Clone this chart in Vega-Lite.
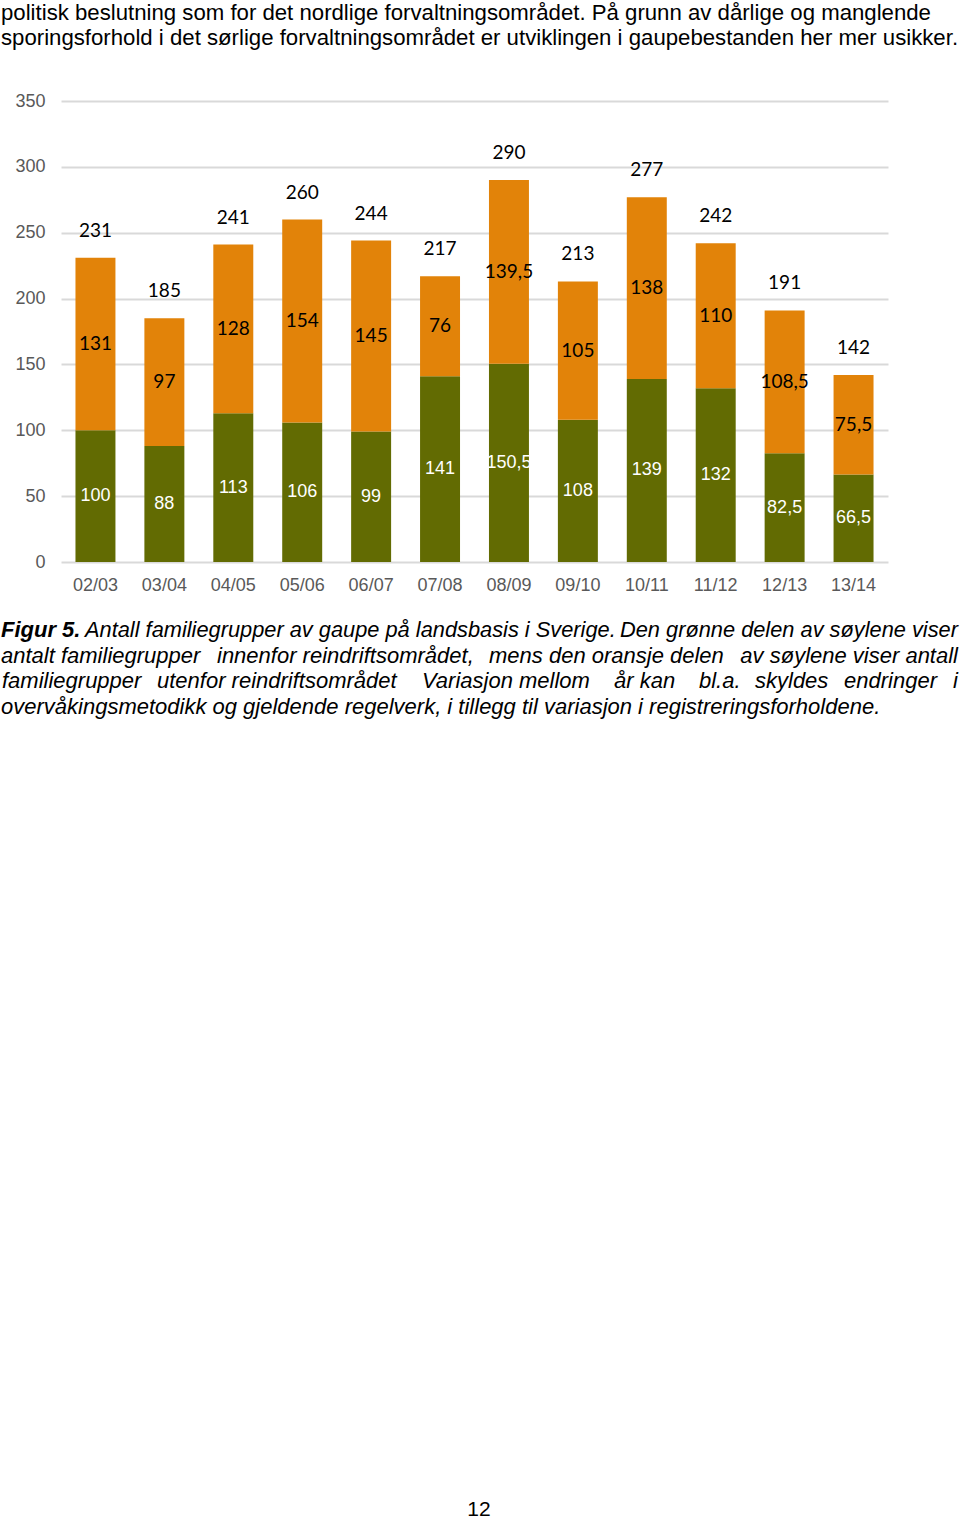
{
  "$schema": "https://vega.github.io/schema/vega-lite/v6.json",
  "autosize": {"type": "none"},
  "width": 827,
  "height": 461,
  "padding": {"left": 61, "top": 101, "right": 72, "bottom": 957},
  "background": "white",
  "config": {
    "view": {"stroke": null},
    "locale": {"number": {"decimal": ",", "thousands": " ", "grouping": [3], "currency": ["", " kr"]}}
  },
  "title": {
    "text": ["politisk beslutning som for det nordlige forvaltningsområdet. På grunn av dårlige og manglende", "sporingsforhold i det sørlige forvaltningsområdet er utviklingen i gaupebestanden her mer usikker."],
    "anchor": "start",
    "frame": "group",
    "dx": -60,
    "offset": 43,
    "font": "Liberation Sans",
    "fontSize": 22.2,
    "fontWeight": "normal",
    "color": "black",
    "lineHeight": 25
  },
  "data": {
    "values": [
      {"season": "02/03", "group": "innenfor", "ord": 1, "value": 100},
      {"season": "02/03", "group": "utenfor", "ord": 2, "value": 131},
      {"season": "03/04", "group": "innenfor", "ord": 1, "value": 88},
      {"season": "03/04", "group": "utenfor", "ord": 2, "value": 97},
      {"season": "04/05", "group": "innenfor", "ord": 1, "value": 113},
      {"season": "04/05", "group": "utenfor", "ord": 2, "value": 128},
      {"season": "05/06", "group": "innenfor", "ord": 1, "value": 106},
      {"season": "05/06", "group": "utenfor", "ord": 2, "value": 154},
      {"season": "06/07", "group": "innenfor", "ord": 1, "value": 99},
      {"season": "06/07", "group": "utenfor", "ord": 2, "value": 145},
      {"season": "07/08", "group": "innenfor", "ord": 1, "value": 141},
      {"season": "07/08", "group": "utenfor", "ord": 2, "value": 76},
      {"season": "08/09", "group": "innenfor", "ord": 1, "value": 150.5},
      {"season": "08/09", "group": "utenfor", "ord": 2, "value": 139.5},
      {"season": "09/10", "group": "innenfor", "ord": 1, "value": 108},
      {"season": "09/10", "group": "utenfor", "ord": 2, "value": 105},
      {"season": "10/11", "group": "innenfor", "ord": 1, "value": 139},
      {"season": "10/11", "group": "utenfor", "ord": 2, "value": 138},
      {"season": "11/12", "group": "innenfor", "ord": 1, "value": 132},
      {"season": "11/12", "group": "utenfor", "ord": 2, "value": 110},
      {"season": "12/13", "group": "innenfor", "ord": 1, "value": 82.5},
      {"season": "12/13", "group": "utenfor", "ord": 2, "value": 108.5},
      {"season": "13/14", "group": "innenfor", "ord": 1, "value": 66.5},
      {"season": "13/14", "group": "utenfor", "ord": 2, "value": 75.5}
    ]
  },
  "layer": [
    {
      "transform": [
        {"stack": "value", "groupby": ["season"], "sort": [{"field": "ord"}], "as": ["y0", "y1"]}
      ],
      "mark": {"type": "bar"},
      "encoding": {
        "x": {
          "field": "season", "type": "nominal", "sort": null,
          "scale": {"paddingInner": 0.42, "paddingOuter": 0.21},
          "axis": {"title": null, "labelAngle": 0, "ticks": false, "domain": false, "labelFont": "Liberation Sans", "labelFontSize": 18, "labelColor": "#595959", "labelPadding": 14}
        },
        "y": {
          "field": "y1", "type": "quantitative",
          "scale": {"domain": [0, 350], "nice": false},
          "axis": {"title": null, "values": [0, 50, 100, 150, 200, 250, 300, 350], "ticks": false, "domain": false, "gridColor": "#d9d9d9", "gridWidth": 2, "labelFont": "Liberation Sans", "labelFontSize": 18, "labelColor": "#595959", "labelPadding": 16}
        },
        "y2": {"field": "y0"},
        "color": {
          "field": "group", "type": "nominal", "legend": null,
          "scale": {"domain": ["innenfor", "utenfor"], "range": ["#626b02", "#e28309"]}
        }
      }
    },
    {
      "transform": [
        {"stack": "value", "groupby": ["season"], "sort": [{"field": "ord"}], "as": ["y0", "y1"]},
        {"calculate": "(datum.y0 + datum.y1) / 2", "as": "mid"},
        {"filter": "datum.group === 'innenfor'"}
      ],
      "mark": {"type": "text", "font": "Liberation Sans", "fontSize": 18, "color": "white", "baseline": "middle"},
      "encoding": {
        "x": {"field": "season", "type": "nominal", "sort": null},
        "y": {"field": "mid", "type": "quantitative"},
        "text": {"field": "value", "type": "quantitative", "format": ".1~f"}
      }
    },
    {
      "transform": [
        {"stack": "value", "groupby": ["season"], "sort": [{"field": "ord"}], "as": ["y0", "y1"]},
        {"calculate": "(datum.y0 + datum.y1) / 2", "as": "mid"},
        {"filter": "datum.group === 'utenfor'"}
      ],
      "mark": {"type": "text", "font": "Lato", "fontSize": 19, "color": "black", "baseline": "middle"},
      "encoding": {
        "x": {"field": "season", "type": "nominal", "sort": null},
        "y": {"field": "mid", "type": "quantitative"},
        "text": {"field": "value", "type": "quantitative", "format": ".1~f"}
      }
    },
    {
      "transform": [
        {"aggregate": [{"op": "sum", "field": "value", "as": "total"}], "groupby": ["season"]}
      ],
      "mark": {"type": "text", "font": "Lato", "fontSize": 19, "color": "black", "baseline": "middle", "dy": -27},
      "encoding": {
        "x": {"field": "season", "type": "nominal", "sort": null},
        "y": {"field": "total", "type": "quantitative"},
        "text": {"field": "total", "type": "quantitative", "format": ".1~f"}
      }
    },
    {
      "data": {"values": [{"t": "Figur 5."}]},
      "mark": {"type": "text", "font": "Liberation Sans", "fontSize": 22, "fontStyle": "italic", "fontWeight": "bold", "align": "left", "baseline": "alphabetic", "color": "black"},
      "encoding": {"text": {"field": "t"}, "x": {"value": -60}, "y": {"value": 536}}
    },
    {
      "data": {"values": [{"t": "Antall familiegrupper av gaupe på landsbasis i Sverige."}]},
      "mark": {"type": "text", "font": "Liberation Sans", "fontSize": 21.8, "fontStyle": "italic", "align": "left", "baseline": "alphabetic", "color": "black"},
      "encoding": {"text": {"field": "t"}, "x": {"value": 24}, "y": {"value": 536}}
    },
    {
      "data": {"values": [{"t": "Den grønne delen av søylene viser"}]},
      "mark": {"type": "text", "font": "Liberation Sans", "fontSize": 21.8, "fontStyle": "italic", "align": "right", "baseline": "alphabetic", "color": "black"},
      "encoding": {"text": {"field": "t"}, "x": {"value": 897}, "y": {"value": 536}}
    },
    {
      "data": {"values": [{"t": "antalt familiegrupper"}]},
      "mark": {"type": "text", "font": "Liberation Sans", "fontSize": 22, "fontStyle": "italic", "align": "left", "baseline": "alphabetic", "color": "black"},
      "encoding": {"text": {"field": "t"}, "x": {"value": -60}, "y": {"value": 561.5}}
    },
    {
      "data": {"values": [{"t": "innenfor reindriftsområdet,"}]},
      "mark": {"type": "text", "font": "Liberation Sans", "fontSize": 22, "fontStyle": "italic", "align": "left", "baseline": "alphabetic", "color": "black"},
      "encoding": {"text": {"field": "t"}, "x": {"value": 156}, "y": {"value": 561.5}}
    },
    {
      "data": {"values": [{"t": "mens den oransje delen"}]},
      "mark": {"type": "text", "font": "Liberation Sans", "fontSize": 22, "fontStyle": "italic", "align": "left", "baseline": "alphabetic", "color": "black"},
      "encoding": {"text": {"field": "t"}, "x": {"value": 428}, "y": {"value": 561.5}}
    },
    {
      "data": {"values": [{"t": "av søylene viser antall"}]},
      "mark": {"type": "text", "font": "Liberation Sans", "fontSize": 22, "fontStyle": "italic", "align": "right", "baseline": "alphabetic", "color": "black"},
      "encoding": {"text": {"field": "t"}, "x": {"value": 897}, "y": {"value": 561.5}}
    },
    {
      "data": {"values": [{"t": "familiegrupper"}]},
      "mark": {"type": "text", "font": "Liberation Sans", "fontSize": 22, "fontStyle": "italic", "align": "left", "baseline": "alphabetic", "color": "black"},
      "encoding": {"text": {"field": "t"}, "x": {"value": -59}, "y": {"value": 587}}
    },
    {
      "data": {"values": [{"t": "utenfor reindriftsområdet"}]},
      "mark": {"type": "text", "font": "Liberation Sans", "fontSize": 22, "fontStyle": "italic", "align": "left", "baseline": "alphabetic", "color": "black"},
      "encoding": {"text": {"field": "t"}, "x": {"value": 96}, "y": {"value": 587}}
    },
    {
      "data": {"values": [{"t": "Variasjon mellom"}]},
      "mark": {"type": "text", "font": "Liberation Sans", "fontSize": 22, "fontStyle": "italic", "align": "left", "baseline": "alphabetic", "color": "black"},
      "encoding": {"text": {"field": "t"}, "x": {"value": 361}, "y": {"value": 587}}
    },
    {
      "data": {"values": [{"t": "år kan"}]},
      "mark": {"type": "text", "font": "Liberation Sans", "fontSize": 22, "fontStyle": "italic", "align": "left", "baseline": "alphabetic", "color": "black"},
      "encoding": {"text": {"field": "t"}, "x": {"value": 553}, "y": {"value": 587}}
    },
    {
      "data": {"values": [{"t": "bl.a."}]},
      "mark": {"type": "text", "font": "Liberation Sans", "fontSize": 22, "fontStyle": "italic", "align": "left", "baseline": "alphabetic", "color": "black"},
      "encoding": {"text": {"field": "t"}, "x": {"value": 638}, "y": {"value": 587}}
    },
    {
      "data": {"values": [{"t": "skyldes"}]},
      "mark": {"type": "text", "font": "Liberation Sans", "fontSize": 22, "fontStyle": "italic", "align": "left", "baseline": "alphabetic", "color": "black"},
      "encoding": {"text": {"field": "t"}, "x": {"value": 694}, "y": {"value": 587}}
    },
    {
      "data": {"values": [{"t": "endringer"}]},
      "mark": {"type": "text", "font": "Liberation Sans", "fontSize": 22, "fontStyle": "italic", "align": "left", "baseline": "alphabetic", "color": "black"},
      "encoding": {"text": {"field": "t"}, "x": {"value": 783}, "y": {"value": 587}}
    },
    {
      "data": {"values": [{"t": "i"}]},
      "mark": {"type": "text", "font": "Liberation Sans", "fontSize": 22, "fontStyle": "italic", "align": "right", "baseline": "alphabetic", "color": "black"},
      "encoding": {"text": {"field": "t"}, "x": {"value": 897}, "y": {"value": 587}}
    },
    {
      "data": {"values": [{"t": "overvåkingsmetodikk og gjeldende regelverk, i tillegg til variasjon i registreringsforholdene."}]},
      "mark": {"type": "text", "font": "Liberation Sans", "fontSize": 22, "fontStyle": "italic", "align": "left", "baseline": "alphabetic", "color": "black"},
      "encoding": {"text": {"field": "t"}, "x": {"value": -60}, "y": {"value": 612.5}}
    },
    {
      "data": {"values": [{"t": "12"}]},
      "mark": {"type": "text", "font": "Liberation Sans", "fontSize": 21, "align": "center", "baseline": "middle", "color": "black"},
      "encoding": {"text": {"field": "t"}, "x": {"value": 418}, "y": {"value": 1409}}
    }
  ]
}
